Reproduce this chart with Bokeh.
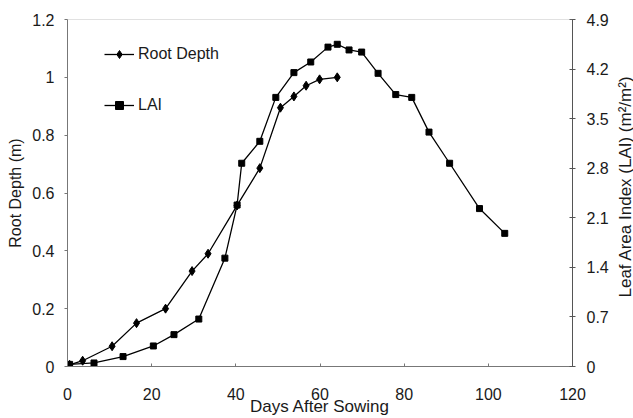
import math
from bokeh.plotting import figure
from bokeh.layouts import row
from bokeh.models import (Range1d, LinearAxis, FixedTicker, Legend, LegendItem, Span, Label)
from bokeh.embed import file_html
from bokeh.resources import INLINE

# ---- data ----
root_days = [0.5, 3.6, 10.6, 16.4, 23.3, 29.6, 33.4, 40.3, 45.7, 50.6, 53.8, 56.7, 59.9, 64.1]
root_depth = [0.006, 0.02, 0.07, 0.15, 0.20, 0.33, 0.39, 0.557, 0.686, 0.895, 0.934, 0.971, 0.993, 1.0]

lai_days = [0.5, 6.3, 13.2, 20.4, 25.3, 31.2, 37.4, 40.3, 41.4, 45.7, 49.5, 53.8, 57.8, 61.9,
            64.1, 66.9, 69.9, 73.8, 78.0, 81.8, 85.9, 90.8, 97.9, 103.9]
lai = [0.03, 0.05, 0.14, 0.29, 0.45, 0.67, 1.53, 2.28, 2.87, 3.18, 3.80, 4.15, 4.30, 4.51,
       4.55, 4.47, 4.44, 4.14, 3.84, 3.80, 3.31, 2.87, 2.23, 1.88]

x_ticks = [0, 20, 40, 60, 80, 100, 120]
x_tick_labels = ["0", "20", "40", "60", "80", "100", "120"]
root_ticks = [0, 0.2, 0.4, 0.6, 0.8, 1.0, 1.2]
root_tick_labels = ["0", "0.2", "0.4", "0.6", "0.8", "1", "1.2"]
lai_ticks = [0, 0.7, 1.4, 2.1, 2.8, 3.5, 4.2, 4.9]
lai_tick_labels = ["0", "0.7", "1.4", "2.1", "2.8", "3.5", "4.2", "4.9"]
lai_title = "Leaf Area Index (LAI) (m\u00b2/m\u00b2)"

FONT = "Liberation Sans"
AXIS_COLOR = "#777777"
TEXT_COLOR = "#1a1a1a"
TITLE_STRIP = 19

p = figure(width=633 - TITLE_STRIP, height=418, output_backend="svg", toolbar_location=None,
           x_range=Range1d(0, 120), y_range=Range1d(0, 1.2),
           min_border_left=67, min_border_right=61 - TITLE_STRIP, min_border_top=19,
           min_border_bottom=52)
p.extra_y_ranges = {"lai": Range1d(0, 4.9)}
p.xgrid.visible = False
p.ygrid.visible = False
p.outline_line_color = None
p.background_fill_color = "white"
p.border_fill_color = "white"


def style_axis(ax, ticks, labels, t_in, t_out, standoff, title_standoff, title_size):
    ax.ticker = FixedTicker(ticks=ticks)
    ax.major_label_overrides = {t: l for t, l in zip(ticks, labels)}
    ax.minor_tick_line_color = None
    ax.major_tick_in = t_in
    ax.major_tick_out = t_out
    ax.axis_line_color = AXIS_COLOR
    ax.major_tick_line_color = AXIS_COLOR
    ax.major_label_text_font = FONT
    ax.major_label_text_font_size = "16px"
    ax.major_label_text_color = TEXT_COLOR
    ax.major_label_standoff = standoff
    ax.axis_label_text_font = FONT
    ax.axis_label_text_font_size = title_size
    ax.axis_label_text_font_style = "normal"
    ax.axis_label_text_color = TEXT_COLOR
    ax.axis_label_standoff = title_standoff


xax = p.xaxis[0]
xax.axis_label = "Days After Sowing"
style_axis(xax, x_ticks, x_tick_labels, 3, 0, 21, -6, "17px")

yax = p.yaxis[0]
yax.axis_label = "Root Depth (m)"
style_axis(yax, root_ticks, root_tick_labels, 0, 3, 10, 5, "16px")

rax = LinearAxis(y_range_name="lai")
style_axis(rax, lai_ticks, lai_tick_labels, 3, 3, 11, 0, "17px")
rax.axis_line_color = "#555555"
rax.major_tick_line_color = "#555555"
p.add_layout(rax, "right")

# dotted top border
p.add_layout(Span(location=1.2, dimension="width", line_color="#888888",
                  line_dash="1 1", line_width=1))

# series
r_line = p.line(root_days, root_depth, line_color="black", line_width=1.3)
r_mark = p.scatter(root_days, root_depth, marker="diamond", size=9,
                   fill_color="black", line_color="black")

l_line = p.line(lai_days, lai, y_range_name="lai", line_color="black", line_width=1.3)
l_mark = p.scatter(lai_days, lai, y_range_name="lai", marker="square", size=6,
                   fill_color="black", line_color="black")

legend = Legend(items=[LegendItem(label="Root Depth", renderers=[r_line, r_mark]),
                       LegendItem(label="LAI", renderers=[l_line, l_mark])],
                location=(37, 251))
legend.background_fill_alpha = 0
legend.border_line_color = None
legend.padding = 0
legend.margin = 0
legend.spacing = 31
legend.glyph_width = 30
legend.glyph_height = 20
legend.label_height = 20
legend.label_standoff = 4
legend.label_text_font = FONT
legend.label_text_font_size = "16px"
legend.label_text_color = TEXT_COLOR
p.add_layout(legend, "center")

# narrow strip holding the right-axis title, reading bottom-to-top as in the reference
t = figure(width=TITLE_STRIP, height=418, output_backend="svg", toolbar_location=None,
           x_range=Range1d(0, 1), y_range=Range1d(0, 1),
           x_axis_location=None, y_axis_location=None, min_border=0,
           min_border_left=0, min_border_right=0, min_border_top=0, min_border_bottom=0)
t.xgrid.visible = False
t.ygrid.visible = False
t.outline_line_color = None
t.background_fill_color = "white"
t.border_fill_color = "white"
t.add_layout(Label(x=TITLE_STRIP / 2 + 1, y=180, x_units="screen", y_units="screen",
                   text=lai_title, angle=math.pi / 2, text_align="center",
                   text_baseline="middle", text_font=FONT, text_font_size="17px",
                   text_color=TEXT_COLOR))

layout = row(p, t, spacing=0)
open("out.html", "w").write(file_html(layout, INLINE))
